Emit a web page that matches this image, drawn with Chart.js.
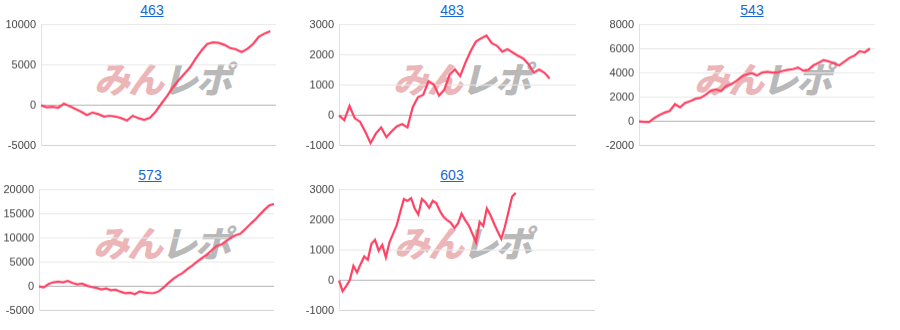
<!DOCTYPE html>
<html>
<head>
<meta charset="utf-8">
<script src="https://cdn.jsdelivr.net/npm/chart.js@4"></script>
<style>
  body { margin: 0; background: #fff; width: 900px; height: 330px; overflow: hidden; position: relative; font-family: "Liberation Sans", Arial, sans-serif; }
  .title { position: absolute; transform: translate(-50%, -50%); font-size: 14px; color: #1967d2; text-decoration: underline; white-space: nowrap; }
  .wm { position: absolute; transform: translate(-50%, -50%) skewX(-14deg); font-family: "Noto Sans CJK JP", sans-serif; font-weight: 900; font-size: 36px; letter-spacing: -2px; white-space: nowrap; line-height: 1; z-index: 0; }
  .wm .p { color: #ecb6b9; }
  .wm .g { color: #b9b9b9; }
  canvas { position: absolute; z-index: 1; }
</style>
</head>
<body>
<script>
// machine numbers (titles)
const titles = ['463', '483', '543', '573', '603'];

// number of x categories per chart
const labelCounts = [42, 46, 47, 50, 72];

// y axis ranges
const yMins = [-5000, -1000, -2000, -5000, -1000];
const yMaxs = [10000, 3000, 8000, 20000, 3000];
const ySteps = [5000, 1000, 2000, 5000, 1000];

// series values
const data463 = [0, -250, -200, -300, 200, -100, -450, -800, -1200, -900, -1100, -1400, -1300, -1400, -1600, -1900,
  -1300, -1600, -1800, -1550, -800, 200, 1140, 2200, 3100, 3900, 4700, 5800, 6800, 7600, 7800, 7750, 7500, 7100,
  6950, 6600, 7000, 7600, 8500, 8900, 9200];
const data483 = [0, -160, 310, -100, -210, -550, -920, -600, -400, -720, -530, -360, -290, -400, 270, 600, 680, 1130,
  1020, 650, 850, 1350, 1520, 1300, 1740, 2130, 2440, 2550, 2640, 2390, 2300, 2110, 2190, 2080, 1970, 1880, 1690,
  1410, 1520, 1410, 1220];
const data543 = [0, -50, -50, 280, 530, 730, 860, 1420, 1170, 1530, 1670, 1870, 1950, 2200, 2540, 2650, 2510, 2930,
  3070, 3350, 3710, 3900, 3990, 3790, 4040, 4100, 4040, 4040, 4180, 4270, 4320, 4460, 4210, 4270, 4630, 4850, 5080,
  4960, 4800, 4630, 4940, 5250, 5440, 5800, 5720, 6030];
const data573 = [0, -200, 500, 840, 980, 840, 1130, 710, 420, 560, 150, -130, -330, -630, -420, -770, -700, -1110,
  -1390, -1320, -1600, -1050, -1250, -1390, -1390, -1000, -200, 710, 1540, 2240, 2800, 3640, 4330, 5170, 5860, 6560,
  7470, 8300, 8660, 9350, 10040, 10600, 10880, 11860, 12840, 13740, 14790, 15830, 16740, 17030];
const data603 = [0, -360, -190, 10, 480, 260, 540, 790, 680, 1210, 1340, 980, 1170, 760, 1260, 1540, 1820, 2270, 2690,
  2630, 2720, 2380, 2180, 2690, 2580, 2400, 2630, 2550, 2290, 2100, 1990, 1910, 1730, 1880, 2210, 1990, 1820, 1540,
  1260, 1930, 1800, 2380, 2160, 1880, 1620, 1380, 1770, 2270, 2770, 2890];
const seriesList = [data463, data483, data543, data573, data603];

// plot area boxes [left, top, right, bottom] and watermark centres
const plots = [[41, 25, 276, 145], [339, 25, 576, 145], [639, 25, 875, 145], [39, 190, 274, 310], [339, 190, 595, 310]];
const titlePos = [[152, 10], [452, 10], [752, 10], [150, 175], [452, 175]];
const wmPos = [[166, 77], [465, 77], [766, 77], [165, 241], [466, 241]];

const AXIS_W = 41;
const PAD = 8;

titles.forEach((t, i) => {
  const title = document.createElement('div');
  title.className = 'title';
  title.textContent = t;
  title.style.left = titlePos[i][0] + 'px';
  title.style.top = titlePos[i][1] + 'px';
  document.body.appendChild(title);

  const wm = document.createElement('div');
  wm.className = 'wm';
  wm.innerHTML = '<span class="p">みん</span><span class="g">レポ</span>';
  wm.style.left = wmPos[i][0] + 'px';
  wm.style.top = wmPos[i][1] + 'px';
  document.body.appendChild(wm);

  const [l, tp, r, b] = plots[i];
  const canvas = document.createElement('canvas');
  let w = r - l + AXIS_W;
  let h = b - tp + PAD * 2;
  canvas.width = w;
  canvas.height = h;
  canvas.style.width = w + 'px';
  canvas.style.height = h + 'px';
  document.body.appendChild(canvas);

  const labels = Array.from({ length: labelCounts[i] }, (_, k) => String(k + 1));

  const chart = new Chart(canvas.getContext('2d'), {
    type: 'line',
    data: {
      labels: labels,
      datasets: [{
        data: seriesList[i],
        borderColor: '#ff4163',
        borderWidth: 2.2,
        pointRadius: 0,
        tension: 0,
        fill: false
      }]
    },
    options: {
      responsive: false,
      maintainAspectRatio: false,
      animation: false,
      events: [],
      layout: { autoPadding: false, padding: { left: 0, right: 0, top: PAD, bottom: PAD } },
      plugins: { legend: { display: false }, tooltip: { enabled: false } },
      scales: {
        x: { display: false },
        y: {
          min: yMins[i],
          max: yMaxs[i],
          afterFit: s => { s.width = AXIS_W; },
          border: { display: true, color: '#e2e2e2', width: 1 },
          grid: {
            drawTicks: false,
            color: c => c.tick.value === 0 ? '#b4b4b4' : (c.tick.value === yMins[i] ? '#d2d2d2' : '#e8e8e8')
          },
          ticks: {
            stepSize: ySteps[i],
            padding: 5,
            color: '#444',
            font: { family: '"Liberation Sans", Arial, sans-serif', size: 11 },
            callback: v => String(v)
          }
        }
      }
    }
  });

  // fit the canvas so the plot area lands on the wanted box
  const ca = chart.chartArea;
  const mTop = ca.top, mLeft = ca.left, mBottom = h - ca.bottom, mRight = w - ca.right;
  w = (r - l) + mLeft + mRight;
  h = (b - tp) + mTop + mBottom;
  canvas.style.left = (l - mLeft) + 'px';
  canvas.style.top = (tp - mTop) + 'px';
  chart.resize(w, h);
});
</script>
</body>
</html>
